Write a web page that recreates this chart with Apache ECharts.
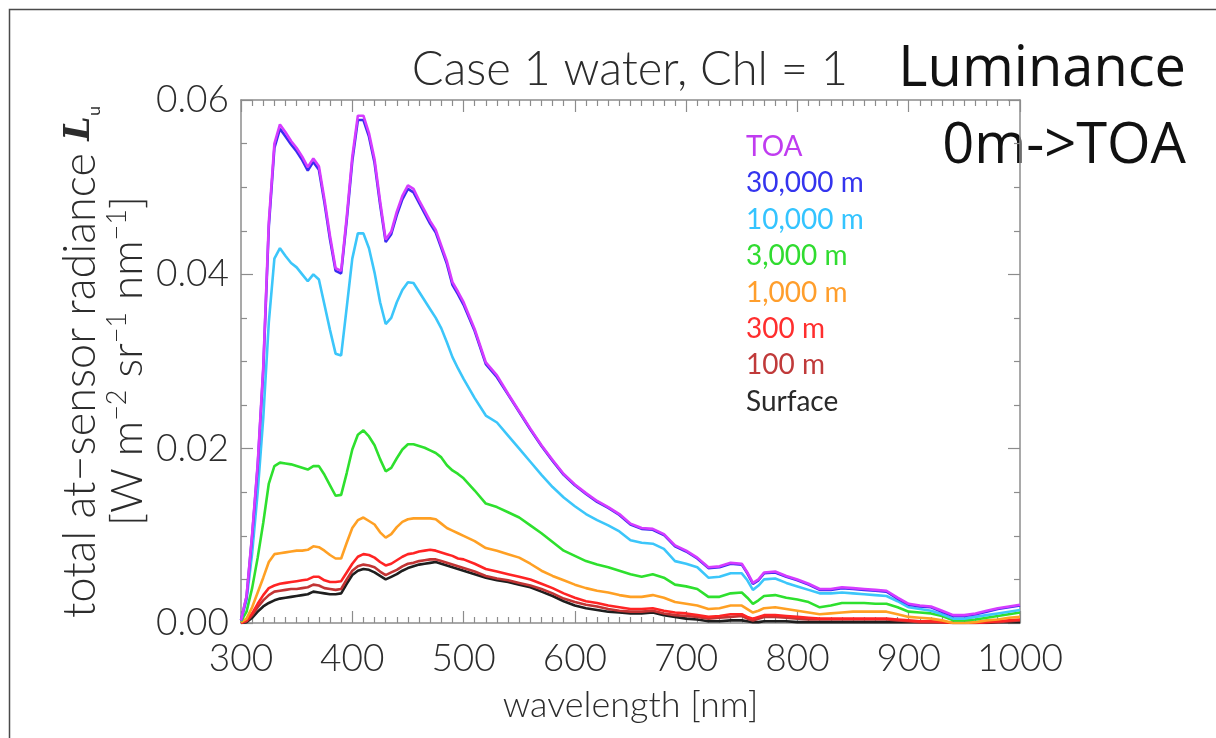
<!DOCTYPE html>
<html>
<head>
<meta charset="utf-8">
<script src="https://cdn.jsdelivr.net/npm/echarts/dist/echarts.min.js"></script>
<style>
  html, body { margin: 0; padding: 0; background: #ffffff; }
  #chart { width: 1216px; height: 738px; }
</style>
</head>
<body>
<div id="chart"></div>
<script>
// Wavelength grid [nm]
const wavelength = [
  300,305,310,315,320,325,330,335,340,345,
  350,355,360,365,370,375,380,385,390,395,
  400,405,410,415,420,425,430,435,440,445,
  450,455,460,465,470,475,480,485,490,495,
  500,
  510,520,530,540,550,560,570,580,590,600,
  610,620,630,640,650,660,670,680,690,700,
  710,720,730,740,750,
  755,760,765,
  770,780,790,800,810,820,830,840,850,860,
  870,880,890,900,910,920,930,940,950,960,
  970,980,990,1000
];

// Total at-sensor radiance [W m^-2 sr^-1 nm^-1] by sensor altitude
const radToa = [
  0.0003,0.0031,0.0102,0.0183,0.0294,0.0460,0.0550,0.0572,0.0563,0.0553,
  0.0545,0.0535,0.0523,0.0533,0.0524,0.0486,0.0444,0.0407,0.0404,0.0466,
  0.0535,0.0582,0.0582,0.0562,0.0532,0.0484,0.0440,0.0449,0.0472,0.0490,
  0.0502,0.0498,0.0485,0.0473,0.0461,0.0451,0.0433,0.0415,0.0391,0.0380,
  0.0368,
  0.0337,0.0299,0.0284,0.0263,0.0243,0.0223,0.0204,0.0187,0.0171,0.0159,
  0.0149,0.0140,0.0133,0.0125,0.0114,0.0109,0.0108,0.0102,0.0089,0.0083,
  0.0075,0.0064,0.0065,0.0069,0.0068,
  0.0058,0.0046,0.0050,
  0.0058,0.0059,0.0054,0.0050,0.0045,0.0039,0.0039,0.0041,0.0040,0.0039,
  0.0038,0.0037,0.0029,0.0022,0.0020,0.0019,0.0014,0.0009,0.0009,0.0011,
  0.0014,0.0017,0.0019,0.0021
];
const rad30000 = [
  0.0003,0.0030,0.0100,0.0180,0.0290,0.0455,0.0545,0.0567,0.0558,0.0549,
  0.0541,0.0531,0.0519,0.0529,0.0520,0.0482,0.0440,0.0404,0.0401,0.0462,
  0.0530,0.0577,0.0577,0.0558,0.0528,0.0480,0.0437,0.0446,0.0468,0.0486,
  0.0498,0.0494,0.0482,0.0470,0.0458,0.0448,0.0430,0.0412,0.0388,0.0377,
  0.0365,
  0.0335,0.0297,0.0282,0.0262,0.0242,0.0222,0.0203,0.0186,0.0170,0.0158,
  0.0148,0.0139,0.0132,0.0124,0.0113,0.0108,0.0107,0.0101,0.0088,0.0082,
  0.0074,0.0063,0.0064,0.0068,0.0067,
  0.0057,0.0045,0.0049,
  0.0057,0.0058,0.0053,0.0049,0.0044,0.0038,0.0038,0.0040,0.0039,0.0038,
  0.0037,0.0036,0.0028,0.0021,0.0019,0.0018,0.0013,0.0008,0.0008,0.0010,
  0.0013,0.0016,0.0018,0.0020
];
const rad10000 = [
  0.0003,0.0026,0.0080,0.0150,0.0235,0.0345,0.0418,0.0430,0.0421,0.0413,
  0.0408,0.0400,0.0392,0.0400,0.0394,0.0365,0.0336,0.0309,0.0307,0.0362,
  0.0418,0.0447,0.0447,0.0430,0.0402,0.0368,0.0343,0.0350,0.0368,0.0382,
  0.0391,0.0390,0.0380,0.0370,0.0360,0.0350,0.0338,0.0322,0.0305,0.0292,
  0.0280,
  0.0258,0.0238,0.0230,0.0215,0.0200,0.0185,0.0170,0.0156,0.0144,0.0134,
  0.0125,0.0118,0.0112,0.0105,0.0095,0.0092,0.0091,0.0085,0.0071,0.0068,
  0.0064,0.0052,0.0053,0.0057,0.0057,
  0.0049,0.0038,0.0043,
  0.0050,0.0051,0.0046,0.0042,0.0038,0.0034,0.0034,0.0035,0.0034,0.0033,
  0.0032,0.0031,0.0025,0.0018,0.0016,0.0014,0.0010,0.0005,0.0005,0.0007,
  0.0009,0.0011,0.0013,0.0015
];
const rad3000 = [
  0.0002,0.0013,0.0040,0.0075,0.0115,0.0160,0.0180,0.0184,0.0183,0.0182,
  0.0180,0.0178,0.0176,0.0180,0.0180,0.0170,0.0158,0.0146,0.0147,0.0172,
  0.0199,0.0216,0.0221,0.0214,0.0204,0.0188,0.0174,0.0178,0.0189,0.0199,
  0.0205,0.0205,0.0203,0.0201,0.0198,0.0195,0.0190,0.0181,0.0175,0.0171,
  0.0166,
  0.0152,0.0137,0.0133,0.0127,0.0121,0.0112,0.0103,0.0093,0.0083,0.0077,
  0.0071,0.0067,0.0064,0.0060,0.0056,0.0053,0.0056,0.0052,0.0044,0.0042,
  0.0039,0.0030,0.0030,0.0034,0.0035,
  0.0029,0.0022,0.0026,
  0.0031,0.0032,0.0029,0.0027,0.0024,0.0018,0.0020,0.0023,0.0023,0.0023,
  0.0022,0.0022,0.0018,0.0013,0.0012,0.0011,0.0008,0.0003,0.0003,0.0004,
  0.0006,0.0008,0.0010,0.0012
];
const rad1000 = [
  0.0001,0.0005,0.0018,0.0035,0.0052,0.0070,0.0079,0.0080,0.0081,0.0082,
  0.0083,0.0083,0.0084,0.0088,0.0087,0.0083,0.0078,0.0074,0.0074,0.0092,
  0.0109,0.0118,0.0121,0.0117,0.0113,0.0104,0.0098,0.0102,0.0110,0.0116,
  0.0119,0.0120,0.0120,0.0120,0.0120,0.0119,0.0114,0.0109,0.0106,0.0103,
  0.0100,
  0.0094,0.0086,0.0083,0.0079,0.0075,0.0068,0.0060,0.0054,0.0049,0.0044,
  0.0040,0.0037,0.0035,0.0032,0.0030,0.0030,0.0032,0.0029,0.0024,0.0022,
  0.0020,0.0016,0.0017,0.0020,0.0020,
  0.0016,0.0012,0.0014,
  0.0017,0.0018,0.0016,0.0014,0.0012,0.0010,0.0011,0.0012,0.0013,0.0013,
  0.0013,0.0013,0.0010,0.0007,0.0006,0.0005,0.0003,0.0000,0.0000,0.0001,
  0.0003,0.0004,0.0006,0.0007
];
const rad300 = [
  0.0000,0.0003,0.0011,0.0022,0.0032,0.0040,0.0043,0.0045,0.0046,0.0047,
  0.0048,0.0049,0.0050,0.0053,0.0053,0.0049,0.0047,0.0047,0.0048,0.0058,
  0.0068,0.0076,0.0079,0.0078,0.0075,0.0070,0.0066,0.0068,0.0072,0.0076,
  0.0079,0.0080,0.0082,0.0083,0.0084,0.0083,0.0081,0.0079,0.0077,0.0074,
  0.0073,
  0.0068,0.0062,0.0059,0.0056,0.0053,0.0050,0.0045,0.0040,0.0034,0.0029,
  0.0025,0.0023,0.0020,0.0018,0.0016,0.0016,0.0017,0.0014,0.0012,0.0011,
  0.0009,0.0007,0.0008,0.0010,0.0010,
  0.0007,0.0005,0.0007,
  0.0009,0.0009,0.0008,0.0007,0.0006,0.0005,0.0005,0.0005,0.0005,0.0005,
  0.0005,0.0005,0.0004,0.0003,0.0002,0.0002,0.0001,0.0000,0.0000,0.0000,
  0.0001,0.0002,0.0003,0.0004
];
const rad100 = [
  0.0000,0.0002,0.0009,0.0018,0.0026,0.0032,0.0036,0.0037,0.0038,0.0039,
  0.0039,0.0040,0.0041,0.0044,0.0043,0.0040,0.0039,0.0038,0.0039,0.0050,
  0.0060,0.0065,0.0067,0.0066,0.0064,0.0059,0.0055,0.0058,0.0061,0.0065,
  0.0068,0.0069,0.0071,0.0072,0.0073,0.0073,0.0071,0.0069,0.0067,0.0065,
  0.0063,
  0.0059,0.0054,0.0051,0.0049,0.0046,0.0043,0.0039,0.0034,0.0028,0.0024,
  0.0021,0.0019,0.0016,0.0014,0.0013,0.0013,0.0014,0.0011,0.0009,0.0008,
  0.0007,0.0005,0.0006,0.0007,0.0008,
  0.0005,0.0003,0.0005,
  0.0007,0.0007,0.0006,0.0005,0.0004,0.0004,0.0004,0.0004,0.0004,0.0004,
  0.0004,0.0004,0.0003,0.0002,0.0001,0.0001,0.0001,0.0000,0.0000,0.0000,
  0.0001,0.0001,0.0002,0.0003
];
const radSurface = [
  0.0000,0.0001,0.0006,0.0013,0.0019,0.0023,0.0026,0.0028,0.0029,0.0030,
  0.0031,0.0032,0.0033,0.0036,0.0035,0.0034,0.0033,0.0033,0.0034,0.0045,
  0.0055,0.0060,0.0062,0.0061,0.0058,0.0054,0.0050,0.0053,0.0056,0.0060,
  0.0063,0.0065,0.0067,0.0068,0.0069,0.0070,0.0068,0.0066,0.0064,0.0062,
  0.0060,
  0.0056,0.0052,0.0049,0.0047,0.0044,0.0041,0.0036,0.0031,0.0025,0.0020,
  0.0017,0.0015,0.0013,0.0012,0.0011,0.0011,0.0012,0.0009,0.0007,0.0005,
  0.0004,0.0002,0.0002,0.0003,0.0003,
  0.0002,0.0001,0.0001,
  0.0002,0.0002,0.0002,0.0001,0.0001,0.0001,0.0001,0.0001,0.0001,0.0001,
  0.0001,0.0001,0.0001,0.0001,0.0001,0.0001,0.0001,0.0000,0.0000,0.0000,
  0.0000,0.0001,0.0001,0.0001
];

const seriesNames = ['TOA', '30,000 m', '10,000 m', '3,000 m', '1,000 m', '300 m', '100 m', 'Surface'];
const seriesValues = [radToa, rad30000, rad10000, rad3000, rad1000, rad300, rad100, radSurface];
const seriesColors = ['#d63cff', '#3a2cf0', '#3cc6fa', '#2ee02e', '#ffa024', '#ff2424', '#c23434', '#1e1e1e'];
const legendColors = ['#c03cf0', '#3434ee', '#34c4ff', '#30dc30', '#ff9e2c', '#ff2e2e', '#c03a3a', '#2a2a2a'];

const xTicks = { min: 300, max: 1000, step: 100 };
const yTicks = { min: 0, max: 0.06, step: 0.02 };

// thin sans for the plot annotations
const plotFont = "Lato, 'Liberation Sans', sans-serif";
const plotWeight = 300;
const textGrey = '#2c2c2c';
const axisGrey = '#8c8c8c';

const chart = echarts.init(document.getElementById('chart'), null, { renderer: 'canvas' });

function frameAxis(kind, position, withLabels) {
  const isX = kind === 'x';
  const t = isX ? xTicks : yTicks;
  return {
    type: 'value',
    position: position,
    min: t.min,
    max: t.max,
    interval: t.step,
    axisLine: { show: true, onZero: false, lineStyle: { color: axisGrey, width: 1.5 } },
    axisTick: { show: true, inside: true, length: 12, lineStyle: { color: axisGrey, width: 1.2 } },
    minorTick: { show: true, splitNumber: isX ? 10 : 4, length: 6, lineStyle: { color: axisGrey, width: 1.2 } },
    splitLine: { show: false },
    minorSplitLine: { show: false },
    axisLabel: withLabels ? {
      show: true,
      fontFamily: plotFont,
      fontWeight: plotWeight,
      fontSize: 37,
      color: textGrey,
      margin: isX ? 18 : 12,
      formatter: isX ? (v => String(v)) : (v => v.toFixed(2))
    } : { show: false }
  };
}

const xMain = frameAxis('x', 'bottom', true);
xMain.name = 'wavelength [nm]';
xMain.nameLocation = 'middle';
xMain.nameGap = 64;
xMain.nameTextStyle = { fontFamily: plotFont, fontWeight: plotWeight, fontSize: 36, color: textGrey };

const series = seriesNames.map((name, i) => ({
  name: name,
  type: 'line',
  showSymbol: false,
  symbol: 'none',
  xAxisIndex: 0,
  yAxisIndex: 0,
  data: wavelength.map((w, k) => [w, seriesValues[i][k]]),
  lineStyle: { color: seriesColors[i], width: 2.6 },
  itemStyle: { color: seriesColors[i] },
  z: 2
}));
// draw the surface-level curves first and the top-of-atmosphere pair last
series.reverse();

chart.setOption({
  animation: false,
  backgroundColor: '#ffffff',
  grid: { left: 241, top: 100, width: 779, height: 523, containLabel: false, outerBoundsMode: 'none' },
  xAxis: [xMain, frameAxis('x', 'top', false)],
  yAxis: [frameAxis('y', 'left', true), frameAxis('y', 'right', false)],
  legend: {
    orient: 'vertical',
    left: 736,
    top: 128,
    icon: 'none',
    itemWidth: 0,
    itemHeight: 26,
    itemGap: 8.4,
    selectedMode: false,
    textStyle: { fontFamily: plotFont, fontWeight: 400, fontSize: 28, padding: 0, lineHeight: 26 },
    data: seriesNames.map((n, i) => ({ name: n, textStyle: { color: legendColors[i] } }))
  },
  graphic: [
    {
      type: 'rect',
      shape: { x: 9.5, y: 9.5, width: 1220, height: 740 },
      style: { fill: 'none', stroke: '#4a4a4a', lineWidth: 1.5 },
      silent: true
    },
    {
      type: 'text',
      x: 848, y: 93,
      style: {
        text: 'Case 1 water, Chl = 1',
        fontFamily: plotFont, fontWeight: plotWeight, fontSize: 47, fill: textGrey,
        align: 'right', verticalAlign: 'bottom'
      }
    },
    {
      type: 'text',
      x: 1186, y: 98,
      style: {
        text: 'Luminance',
        fontFamily: "'Open Sans', 'Lato', sans-serif", fontSize: 56, fill: '#111111',
        align: 'right', verticalAlign: 'bottom'
      }
    },
    {
      type: 'text',
      x: 1186, y: 175,
      style: {
        text: '0m->TOA',
        fontFamily: "'Open Sans', 'Lato', sans-serif", fontSize: 56, fill: '#111111',
        align: 'right', verticalAlign: 'bottom'
      }
    },
    {
      type: 'text',
      x: 80, y: 362,
      rotation: Math.PI / 2,
      style: {
        text: '{a|total at\u2212sensor radiance }{L|L}{s|u}',
        align: 'center', verticalAlign: 'middle',
        rich: {
          a: { fontFamily: plotFont, fontWeight: plotWeight, fontSize: 45, fill: textGrey, lineHeight: 46 },
          L: { fontFamily: "'DejaVu Serif', serif", fontStyle: 'italic', fontWeight: 'bold', fontSize: 35, fill: textGrey, lineHeight: 46 },
          s: { fontFamily: plotFont, fontSize: 18, fill: textGrey, lineHeight: 46, verticalAlign: 'bottom' }
        }
      }
    },
    {
      type: 'text',
      x: 128, y: 361,
      rotation: Math.PI / 2,
      style: {
        text: '{b|[W m}{p|\u22122}{b| sr}{p|\u22121}{b| nm}{p|\u22121}{b|]}',
        align: 'center', verticalAlign: 'middle',
        rich: {
          b: { fontFamily: plotFont, fontWeight: plotWeight, fontSize: 44, fill: textGrey, lineHeight: 48 },
          p: { fontFamily: plotFont, fontWeight: plotWeight, fontSize: 27, fill: textGrey, lineHeight: 48, verticalAlign: 'top' }
        }
      }
    }
  ],
  series: series
});
</script>
</body>
</html>
